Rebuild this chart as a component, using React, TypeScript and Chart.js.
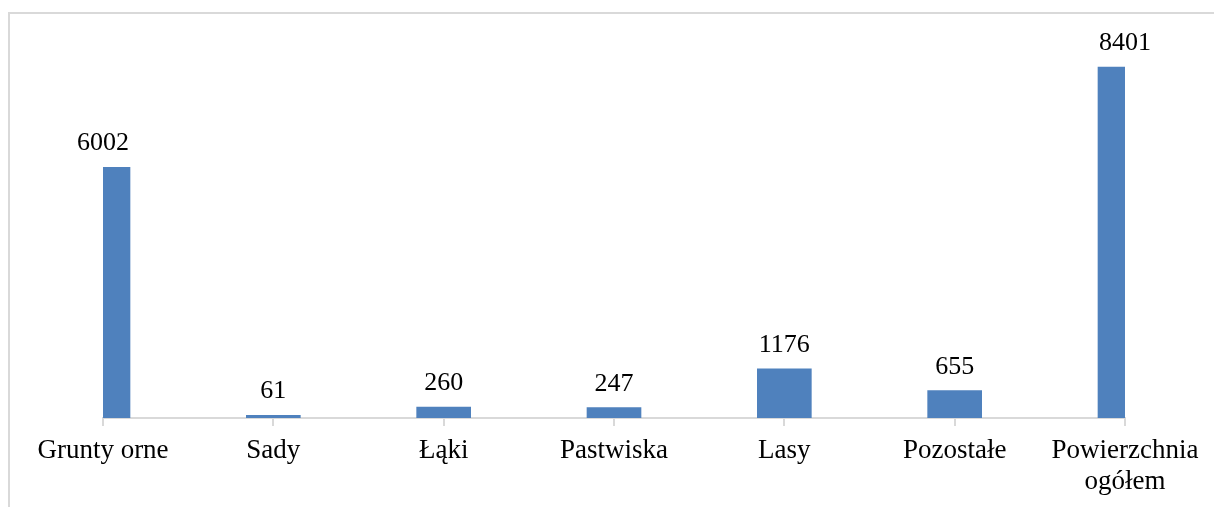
import React, { useEffect, useRef } from "react";
import { Chart, registerables } from "chart.js";

Chart.register(...registerables);

const categories: (string | string[])[] = [
  "Grunty orne",
  "Sady",
  "Łąki",
  "Pastwiska",
  "Lasy",
  "Pozostałe",
  ["Powierzchnia", "ogółem"],
];
const values: number[] = [6002, 61, 260, 247, 1176, 655, 8401];
const yMax = 9000;

const FONT = '"Liberation Serif", "Times New Roman", serif';

const valueLabels = {
  id: "valueLabels",
  afterDatasetsDraw(chart: any) {
    const ctx = chart.ctx;
    const meta = chart.getDatasetMeta(0);
    ctx.save();
    ctx.font = `26px ${FONT}`;
    ctx.fillStyle = "#000000";
    ctx.textAlign = "center";
    ctx.textBaseline = "alphabetic";
    meta.data.forEach((bar: any, i: number) => {
      ctx.fillText(String(values[i]), bar.x, bar.y - 17);
    });
    ctx.restore();
  },
};

export default function App() {
  const ref = useRef<HTMLCanvasElement>(null);
  useEffect(() => {
    if (!ref.current) return;
    const chart = new Chart(ref.current, {
      type: "bar",
      data: {
        labels: categories,
        datasets: [
          {
            data: values,
            backgroundColor: "#4f81bd",
            borderWidth: 0,
            barThickness: 54,
            clip: 0 as any,
          },
        ],
      },
      options: {
        animation: false,
        responsive: false,
        maintainAspectRatio: false,
        layout: { padding: { left: 103, right: 89, top: 42, bottom: 0 } },
        plugins: {
          legend: { display: false },
          tooltip: { enabled: false },
        },
        scales: {
          x: {
            type: "category",
            offset: false,
            grid: {
              display: true,
              offset: false,
              drawOnChartArea: false,
              drawTicks: true,
              tickLength: 8,
              color: "#d9d9d9",
              lineWidth: 2,
            },
            border: { display: true, color: "#d9d9d9", width: 2 },
            ticks: {
              color: "#000000",
              padding: 9,
              maxRotation: 0,
              autoSkip: false,
              font: { family: FONT, size: 27, lineHeight: 1.15 },
            },
            afterFit: (scale: any) => {
              scale.height = 89;
            },
          },
          y: {
            display: false,
            min: 0,
            max: yMax,
          },
        },
      },
      plugins: [valueLabels],
    });
    return () => chart.destroy();
  }, []);

  return (
    <>
      <div
        style={{
          position: "fixed",
          left: 8,
          top: 12,
          right: 0,
          bottom: 0,
          borderTop: "2px solid #d9d9d9",
          borderLeft: "2px solid #d9d9d9",
          boxSizing: "border-box",
        }}
      />
      <canvas
        ref={ref}
        width={1214}
        height={507}
        style={{ position: "fixed", left: 0, top: 0, width: 1214, height: 507 }}
      />
    </>
  );
}
